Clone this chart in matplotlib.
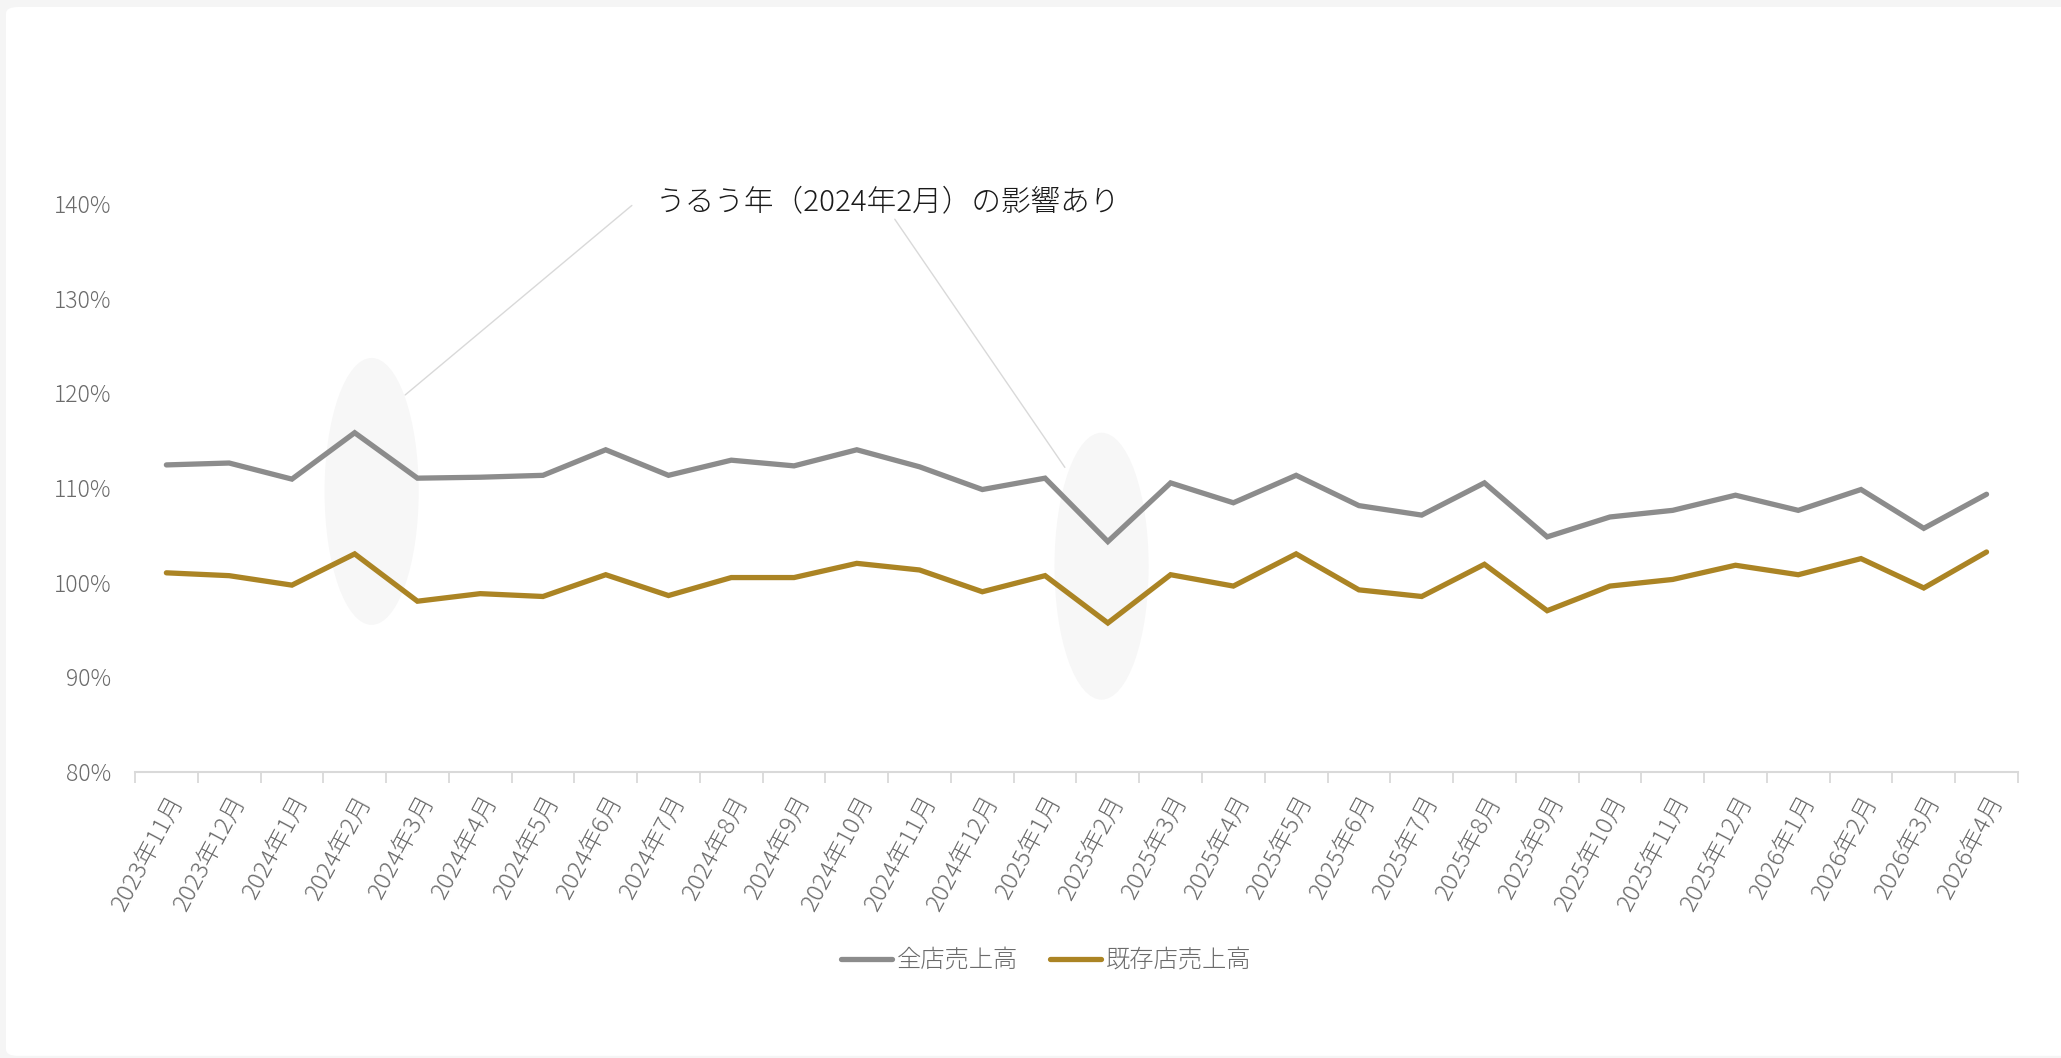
import matplotlib
matplotlib.use("Agg")
import matplotlib.pyplot as plt
from matplotlib.patches import Ellipse, FancyBboxPatch

plt.rcParams['font.family'] = ['Noto Sans CJK JP', 'DejaVu Sans']
plt.rcParams['font.weight'] = 'light'

# data
months = ['2023年11月', '2023年12月',
          '2024年1月', '2024年2月', '2024年3月', '2024年4月', '2024年5月', '2024年6月',
          '2024年7月', '2024年8月', '2024年9月', '2024年10月', '2024年11月', '2024年12月',
          '2025年1月', '2025年2月', '2025年3月', '2025年4月', '2025年5月', '2025年6月',
          '2025年7月', '2025年8月', '2025年9月', '2025年10月', '2025年11月', '2025年12月',
          '2026年1月', '2026年2月', '2026年3月', '2026年4月']
all_stores = [112.4, 112.6, 110.9, 115.8, 111.0, 111.1, 111.3, 114.0, 111.3, 112.9,
              112.3, 114.0, 112.2, 109.8, 111.0, 104.3, 110.5, 108.4, 111.3, 108.1,
              107.1, 110.5, 104.8, 106.9, 107.6, 109.2, 107.6, 109.8, 105.7, 109.3]
existing_stores = [101.0, 100.7, 99.7, 103.0, 98.0, 98.8, 98.5, 100.8, 98.6, 100.5,
                   100.5, 102.0, 101.3, 99.0, 100.7, 95.7, 100.8, 99.6, 103.0, 99.2,
                   98.5, 101.9, 97.0, 99.6, 100.3, 101.8, 100.8, 102.5, 99.4, 103.2]
series_names = ['全店売上高', '既存店売上高']
yticks = [80, 90, 100, 110, 120, 130, 140]
note = 'うるう年（2024年2月）の影響あり'

GRAY = '#8c8c8c'
GOLD = '#ab8424'
LABEL = '#6b6b6b'

fig = plt.figure(figsize=(20.61, 10.58), dpi=100, facecolor='#f5f5f5')
# white card behind the chart
card = FancyBboxPatch((6 / 2061, 0.002), 1.2, 1 - 7 / 1058 - 0.002,
                      boxstyle='round,pad=0,rounding_size=0.006',
                      transform=fig.transFigure, facecolor='white',
                      edgecolor='none', zorder=-10)
fig.patches.append(card)

ax = fig.add_axes([0.0655, 0.2707, 0.9136, 0.5368])
ax.set_facecolor('none')
ax.set_zorder(1)

x = list(range(len(months)))

# highlight ellipses around the leap-year months
for cx, cy in [(3.27, 109.6), (14.9, 101.7)]:
    ax.add_patch(Ellipse((cx, cy), 1.5, 28.2, facecolor='#f7f7f7',
                         edgecolor='none', zorder=1))

ax.plot(x, all_stores, color=GRAY, lw=3.8, label=series_names[0],
        solid_joinstyle='miter', solid_capstyle='round', zorder=3)
ax.plot(x, existing_stores, color=GOLD, lw=3.8, label=series_names[1],
        solid_joinstyle='miter', solid_capstyle='round', zorder=3)

ax.set_xlim(-0.5, len(months) - 0.5)
ax.set_ylim(80, 140)
ax.set_yticks(yticks)
ax.set_yticklabels([f'{v}%' for v in yticks], fontsize=16.5, color=LABEL)
ax.tick_params(axis='y', length=0, pad=17)

ax.set_xticks([i - 0.5 for i in range(len(months) + 1)], minor=True)
ax.set_xticks(x)
ax.set_xticklabels(months, rotation=62, ha='right', rotation_mode='anchor',
                   fontsize=17.5, color=LABEL)
ax.tick_params(axis='x', which='major', length=0, pad=14)
ax.tick_params(axis='x', which='minor', length=8, color='#d9d9d9', width=1.3)

for s in ['top', 'right', 'left']:
    ax.spines[s].set_visible(False)
ax.spines['bottom'].set_color('#d9d9d9')
ax.spines['bottom'].set_linewidth(1.5)

# annotation
ax.text(7.8, 140.2, note, fontsize=21.3, color='#1a1a1a', va='center',
        ha='left', zorder=4)
ax.annotate('', xy=(3.77, 119.6), xytext=(7.45, 140.0),
            arrowprops=dict(arrowstyle='-', color='#d9d9d9', lw=1))
ax.annotate('', xy=(14.34, 111.9), xytext=(11.58, 138.6),
            arrowprops=dict(arrowstyle='-', color='#d9d9d9', lw=1))

fig.legend(loc='center', bbox_to_anchor=(0.5077, 0.092), ncol=2, frameon=False,
           fontsize=17.5, labelcolor=LABEL, handlelength=2.1, handletextpad=0.2,
           columnspacing=1.3)

fig.savefig('out.png', dpi=100, facecolor=fig.get_facecolor())
